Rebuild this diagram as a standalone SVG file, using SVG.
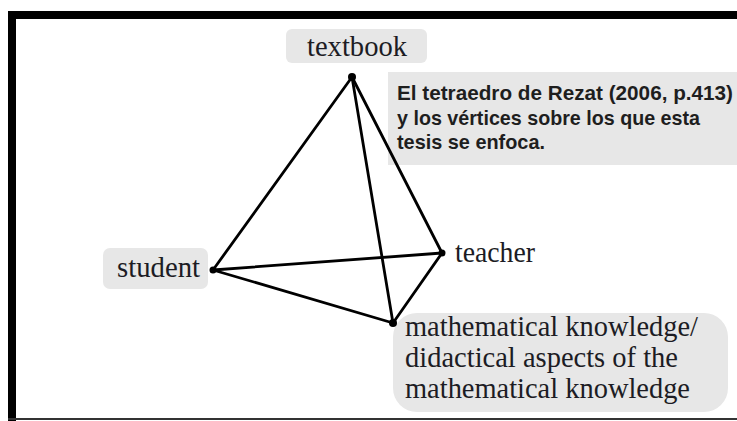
<svg xmlns="http://www.w3.org/2000/svg" width="737" height="421" viewBox="0 0 737 421">
<style>
.box{fill:#e7e7e7}
.lbl{font-family:"Liberation Serif","Times New Roman",serif;font-size:30px;fill:#1c1c24}
.ml{font-size:29px}
.note{font-family:"Liberation Sans",Arial,sans-serif;font-weight:bold;font-size:21px;fill:#1e1e1e}
.edge{stroke:#000;stroke-width:2.8;stroke-linecap:round;fill:none}
.dot{fill:#000}
</style>
<rect x="0" y="0" width="737" height="421" fill="#fff"/>
<g id="frame">
<rect x="8" y="11" width="729" height="8" fill="#000"/>
<rect x="8" y="11" width="8" height="410" fill="#000"/>
<rect x="8" y="418" width="729" height="2" fill="#333"/>
</g>
<g id="note">
<rect class="box" x="388" y="72" width="349" height="93"/>
<text class="note" x="397" y="100" textLength="336" lengthAdjust="spacingAndGlyphs">El tetraedro de Rezat (2006, p.413)</text>
<text class="note" x="397" y="125" textLength="303" lengthAdjust="spacingAndGlyphs">y los vértices sobre los que esta</text>
<text class="note" x="397" y="149" textLength="148" lengthAdjust="spacingAndGlyphs">tesis se enfoca.</text>
</g>
<g id="connectors">
<line class="edge" x1="352" y1="77" x2="213" y2="270"/>
<line class="edge" x1="352" y1="77" x2="442" y2="253"/>
<line class="edge" x1="352" y1="77" x2="393" y2="323"/>
<line class="edge" x1="213" y1="270" x2="442" y2="253"/>
<line class="edge" x1="213" y1="270" x2="393" y2="323"/>
<line class="edge" x1="442" y1="253" x2="393" y2="323"/>
</g>
<g id="textbook">
<rect class="box" x="286" y="29" width="141" height="34" rx="6"/>
<text class="lbl" x="307" y="56" textLength="100" lengthAdjust="spacingAndGlyphs">textbook</text>
<circle class="dot" cx="352" cy="77" r="4"/>
</g>
<g id="student">
<rect class="box" x="103" y="248" width="105" height="41" rx="7"/>
<text class="lbl" x="117" y="277" textLength="83" lengthAdjust="spacingAndGlyphs">student</text>
<circle class="dot" cx="213" cy="270" r="3.5"/>
</g>
<g id="teacher">
<text class="lbl" x="455" y="262" textLength="80" lengthAdjust="spacingAndGlyphs">teacher</text>
<circle class="dot" cx="442" cy="253" r="3.5"/>
</g>
<g id="knowledge">
<rect class="box" x="393" y="313" width="335" height="99" rx="24"/>
<text class="lbl ml" x="405" y="336" textLength="293" lengthAdjust="spacingAndGlyphs">mathematical knowledge/</text>
<text class="lbl ml" x="405" y="367" textLength="273" lengthAdjust="spacingAndGlyphs">didactical aspects of the</text>
<text class="lbl ml" x="405" y="398" textLength="285" lengthAdjust="spacingAndGlyphs">mathematical knowledge</text>
<circle class="dot" cx="393" cy="323" r="4"/>
</g>
</svg>
